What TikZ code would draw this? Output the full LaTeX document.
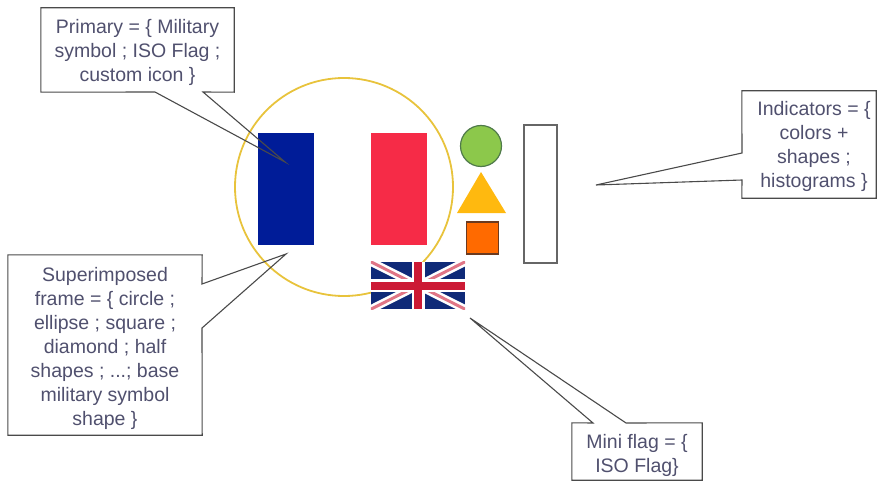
\documentclass[tikz,border=0pt]{standalone}
\usepackage{fontspec}
\setmainfont{Liberation Sans}
\usepackage{tikz}
\usetikzlibrary{positioning}

\definecolor{textblue}{HTML}{50506E}
\definecolor{linegray}{HTML}{4A4A4A}
\definecolor{frameyellow}{HTML}{E8C33C}
\definecolor{frblue}{HTML}{001C98}
\definecolor{frred}{HTML}{F62B47}
\definecolor{ukblue}{HTML}{0F2A78}
\definecolor{ukred}{HTML}{CC1A35}
\definecolor{dotgreen}{HTML}{8CC84B}
\definecolor{dotborder}{HTML}{4F7A4A}
\definecolor{triyellow}{HTML}{FFB90F}
\definecolor{sqorange}{HTML}{FF6A00}
\definecolor{sqborder}{HTML}{6B3A20}

\begin{document}
\begin{tikzpicture}[
    x=1pt,
    y=-1pt,
    stripe/.style={rectangle, inner sep=0pt, minimum width=56pt, minimum height=112pt},
    callout/.style={rectangle, inner sep=0pt},
    calltext/.style={rectangle, inner sep=0pt, align=center, font=\fontsize{19.5}{24}\selectfont, text=textblue},
    outline/.style={draw=linegray, line width=1.1pt, line join=miter},
    indicator/.style={inner sep=0pt, line width=1.2pt}
]
\useasboundingbox (0,0) rectangle (877,481);

% Primary flag
\node[stripe, fill=frblue] (blue) at (286,189) {};
\node[stripe, fill=white, right=0pt of blue] (white) {};
\node[stripe, fill=frred, right=0pt of white] (red) {};

% Frame
\node[circle, draw=frameyellow, line width=1.8pt, inner sep=0pt, minimum size=218pt] (frame) at (344,187) {};

% Indicators
\node[circle, indicator, draw=dotborder, fill=dotgreen, minimum size=41pt] (dot) at (481,146) {};
\coordinate (apex) at (481,172);
\coordinate (baseright) at (506,213);
\coordinate (baseleft) at (457,213);
\fill[triyellow] (apex) -- (baseright) -- (baseleft) -- cycle;
\node[rectangle, indicator, draw=sqborder, fill=sqorange, minimum size=32pt] (square) at (482.5,238) {};
\node[rectangle, indicator, draw=black!60, fill=white, minimum width=33pt, minimum height=138pt] (bar) at (540.5,194) {};

% Mini flag
\node[rectangle, inner sep=0pt, fill=ukblue, minimum width=94pt, minimum height=47pt] (mini) at (418,285.5) {};
\begin{scope}
\clip (mini.south west) rectangle (mini.north east);
\draw[white, line width=8pt] (mini.south west) -- (mini.north east);
\draw[white, line width=8pt] (mini.north west) -- (mini.south east);
\draw[ukred!60!white, line width=3pt] (mini.south west) -- (mini.north east);
\draw[ukred!60!white, line width=3pt] (mini.north west) -- (mini.south east);
\draw[white, line width=13pt] (mini.north) -- (mini.south);
\draw[white, line width=13pt] (mini.west) -- (mini.east);
\draw[ukred, line width=8pt] (mini.north) -- (mini.south);
\draw[ukred, line width=8pt] (mini.west) -- (mini.east);
\end{scope}

% Callouts
\node[callout, minimum width=193pt, minimum height=84pt] (primary) at (137.5,50) {};
\node[callout, minimum width=194pt, minimum height=180pt] (super) at (105,345) {};
\node[callout, minimum width=134pt, minimum height=107pt] (ind) at (809,144.5) {};
\node[callout, minimum width=130pt, minimum height=57pt] (miniflag) at (637,451.5) {};

% Callout texts
\node[calltext, yshift=-2pt] (primarytext) at (primary) {Primary = \{ Military\\symbol ; ISO Flag ;\\custom icon \}};
\node[calltext, yshift=-3pt] (supertext) at (super) {Superimposed\\frame = \{ circle ;\\ellipse ; square ;\\diamond ; half\\shapes ; ...; base\\military symbol\\shape \}};
\node[calltext, xshift=5pt, yshift=-2pt] (indtext) at (ind) {Indicators = \{\\colors +\\shapes ;\\histograms \}};
\node[calltext, yshift=-4pt] (minitext) at (miniflag) {Mini flag = \{\\ISO Flag\}};

% Tails
\coordinate (primarytip) at (285,162);
\coordinate (primaryleft) at (155,92);
\coordinate (primaryright) at (203,92);
\coordinate (supertip) at (286,254);
\coordinate (supertop) at (202,284);
\coordinate (superbottom) at (202,328);
\coordinate (indtip) at (596,185);
\coordinate (indtop) at (742,153);
\coordinate (indbottom) at (742,180);
\coordinate (minitip) at (470,318);
\coordinate (minileft) at (593,423);
\coordinate (miniright) at (626,423);

% Outlines
\draw[outline] (primary.south west) -- (primary.north west) -- (primary.north east) -- (primary.south east) -- (primaryright) -- (primarytip) -- (primaryleft) -- cycle;
\draw[outline] (super.north west) -- (super.north east) -- (supertop) -- (supertip) -- (superbottom) -- (super.south east) -- (super.south west) -- cycle;
\draw[outline] (ind.north west) -- (ind.north east) -- (ind.south east) -- (ind.south west) -- (indbottom) -- (indtip) -- (indtop) -- cycle;
\draw[outline] (miniflag.north west) -- (minileft) -- (minitip) -- (miniright) -- (miniflag.north east) -- (miniflag.south east) -- (miniflag.south west) -- cycle;
\end{tikzpicture}
\end{document}
